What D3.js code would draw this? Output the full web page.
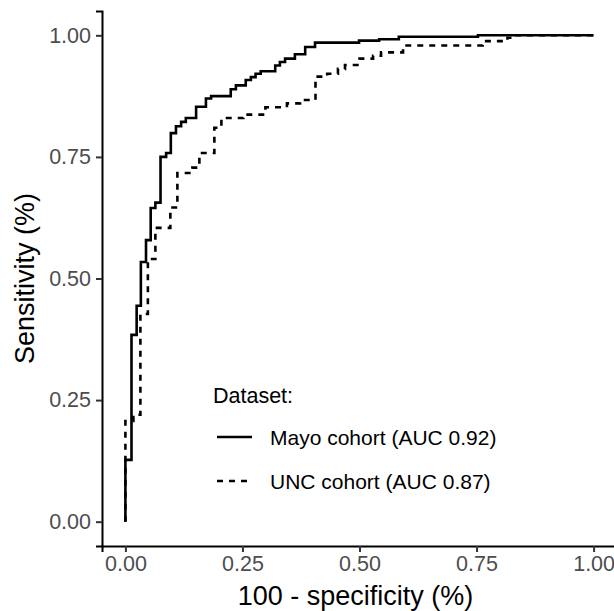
<!DOCTYPE html>
<html>
<head>
<meta charset="utf-8">
<script src="https://cdn.jsdelivr.net/npm/d3@7"></script>
<style>
  body { margin: 0; background: #fff; }
  text { font-family: "Liberation Sans", Arial, sans-serif; }
</style>
</head>
<body>
<script>
// ROC points: tops of each vertical step
var mayoFpr = [0, 0, 0.013, 0.024, 0.033, 0.044, 0.054, 0.064, 0.075, 0.087, 0.097, 0.108, 0.119, 0.129,
  0.151, 0.172, 0.183, 0.225, 0.236, 0.257, 0.268, 0.278, 0.289, 0.320, 0.330, 0.341, 0.362, 0.384,
  0.405, 0.499, 0.542, 0.584, 0.753, 1];
var mayoTpr = [0, 0.127, 0.384, 0.444, 0.534, 0.579, 0.645, 0.656, 0.750, 0.758, 0.799, 0.813, 0.822, 0.830,
  0.853, 0.870, 0.875, 0.889, 0.897, 0.908, 0.914, 0.921, 0.926, 0.938, 0.945, 0.952, 0.961, 0.976,
  0.985, 0.989, 0.992, 0.997, 1, 1];

var uncFpr = [0, 0, 0.017, 0.032, 0.048, 0.064, 0.096, 0.111, 0.143, 0.158, 0.190, 0.205, 0.252, 0.299,
  0.345, 0.373, 0.406, 0.431, 0.454, 0.469, 0.500, 0.529, 0.546, 0.593, 0.763, 0.816, 0.825, 1];
var uncTpr = [0, 0.207, 0.220, 0.427, 0.540, 0.604, 0.646, 0.717, 0.728, 0.758, 0.810, 0.830, 0.837, 0.852,
  0.860, 0.867, 0.915, 0.921, 0.931, 0.939, 0.952, 0.958, 0.965, 0.979, 0.988, 0.995, 1, 1];

var ticks = [0, 0.25, 0.5, 0.75, 1];
var seriesNames = ["Mayo cohort (AUC 0.92)", "UNC cohort (AUC 0.87)"];
var legendTitle = "Dataset:";

var W = 614, H = 611;
var panel = { left: 102, right: 617, top: 11, bottom: 546 };

var svg = d3.select("body").append("svg")
  .attr("width", W)
  .attr("height", H);

var x = d3.scaleLinear().domain([-0.05, 1.05]).range([panel.left, panel.right]);
var y = d3.scaleLinear().domain([-0.05, 1.05]).range([panel.bottom, panel.top]);

// axes
var xAxis = d3.axisBottom(x).tickValues(ticks).tickFormat(d3.format(".2f")).tickSize(6).tickPadding(4);
var yAxis = d3.axisLeft(y).tickValues(ticks).tickFormat(d3.format(".2f")).tickSize(6).tickPadding(5);

var gx = svg.append("g")
  .attr("transform", "translate(0," + panel.bottom + ")")
  .call(xAxis);
var gy = svg.append("g")
  .attr("transform", "translate(" + panel.left + ",0)")
  .call(yAxis);

[gx, gy].forEach(function(g) {
  g.select(".domain").attr("stroke", "#000").attr("stroke-width", 2);
  g.selectAll(".tick line").attr("stroke", "#333").attr("stroke-width", 2);
  g.selectAll(".tick text")
    .attr("fill", "#4d4d4d")
    .style("font-size", "21.5px")
    .style("font-family", "Liberation Sans, Arial, sans-serif");
});

// axis titles
svg.append("text")
  .attr("x", (panel.left + panel.right) / 2 - 4)
  .attr("y", 605)
  .attr("text-anchor", "middle")
  .style("font-size", "27px")
  .text("100 - specificity (%)");

svg.append("text")
  .attr("transform", "translate(34," + ((panel.top + panel.bottom) / 2) + ") rotate(-90)")
  .attr("text-anchor", "middle")
  .style("font-size", "27px")
  .text("Sensitivity (%)");

// curves
var line = d3.line()
  .x(function(d) { return x(d[0]); })
  .y(function(d) { return y(d[1]); })
  .curve(d3.curveStepAfter);

var mayo = d3.zip(mayoFpr, mayoTpr);
var unc = d3.zip(uncFpr, uncTpr);

svg.append("path")
  .attr("d", line(unc))
  .attr("fill", "none")
  .attr("stroke", "#000")
  .attr("stroke-width", 2.6)
  .attr("stroke-dasharray", "6,6");

svg.append("path")
  .attr("d", line(mayo))
  .attr("fill", "none")
  .attr("stroke", "#000")
  .attr("stroke-width", 2.6);

// legend
var legend = svg.append("g");
legend.append("text")
  .attr("x", 213)
  .attr("y", 403)
  .style("font-size", "21.5px")
  .text(legendTitle);

var dashes = [null, "6,6"];
seriesNames.forEach(function(name, i) {
  var ly = 437 + i * 44;
  legend.append("line")
    .attr("x1", 217).attr("x2", 252)
    .attr("y1", ly).attr("y2", ly)
    .attr("stroke", "#000")
    .attr("stroke-width", 2.6)
    .attr("stroke-dasharray", dashes[i]);
  legend.append("text")
    .attr("x", 270)
    .attr("y", ly + 7.5)
    .style("font-size", "21px")
    .text(name);
});
</script>
</body>
</html>
